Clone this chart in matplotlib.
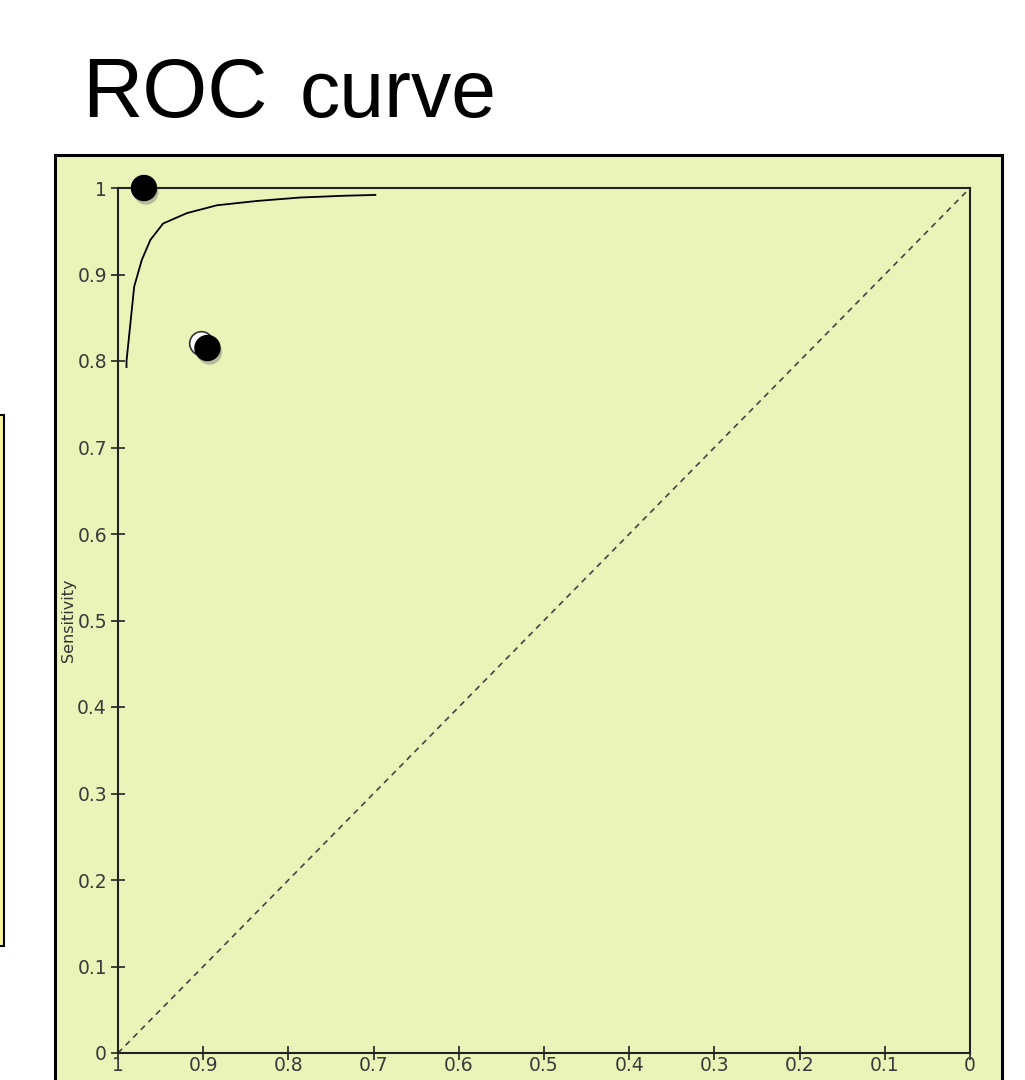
import matplotlib
matplotlib.use("Agg")
import matplotlib.pyplot as plt
import matplotlib.patheffects as pe
from matplotlib.patches import Rectangle

# ---- data ----
curve_spec = [0.990, 0.990, 0.981, 0.972, 0.962, 0.947, 0.919, 0.884, 0.837, 0.786, 0.736, 0.698]
curve_sens = [0.793, 0.800, 0.886, 0.917, 0.940, 0.959, 0.971, 0.980, 0.985, 0.989, 0.991, 0.992]
diag_spec = [1.0, 0.0]
diag_sens = [0.0, 1.0]
point_spec = [0.9695, 0.895]
point_sens = [1.0, 0.815]
ring_spec = [0.902]
ring_sens = [0.821]
ticks = [0, 0.1, 0.2, 0.3, 0.4, 0.5, 0.6, 0.7, 0.8, 0.9, 1.0]
tick_labels = ["0", "0.1", "0.2", "0.3", "0.4", "0.5", "0.6", "0.7", "0.8", "0.9", "1"]

W, H = 1025, 1080
fig = plt.figure(figsize=(W / 100, H / 100), dpi=100)
fig.patch.set_facecolor("white")

panel_col = "#EAF4B9"
# background panel
fig.patches.append(Rectangle((55 / W, -0.02), 947 / W, (H - 155) / H + 0.02,
                             transform=fig.transFigure, facecolor=panel_col,
                             edgecolor="black", linewidth=2.2, zorder=0))
# partial box at left edge
fig.patches.append(Rectangle((-10 / W, 1 - 946 / H), 14 / W, (946 - 415) / H,
                             transform=fig.transFigure, facecolor="#F8F29A",
                             edgecolor="black", linewidth=1.5, zorder=0))

# title
fig.text(82 / W, 1 - 117 / H, "ROC", fontsize=60, family="Liberation Sans",
         va="baseline", ha="left", color="black")
fig.text(300 / W, 1 - 117 / H, "curve", fontsize=58, family="Liberation Sans",
         va="baseline", ha="left", color="black")

ax = fig.add_axes([118 / W, 27 / H, 852 / W, 865 / H])
ax.set_zorder(2)
ax.set_facecolor(panel_col)
ax.patch.set_alpha(0.0)
ax.set_xlim(1, 0)
ax.set_ylim(0, 1)

for s in ax.spines.values():
    s.set_color("#222222")
    s.set_linewidth(1.5)

ax.set_xticks(ticks)
ax.set_xticklabels(tick_labels)
ax.set_yticks(ticks)
ax.set_yticklabels(tick_labels)
ax.tick_params(axis="both", direction="inout", length=10, width=1.2, color="#222222",
               labelsize=13.5, labelcolor="#3a3a3a")
ax.tick_params(axis="x", pad=-3)
ax.tick_params(axis="y", pad=3)

ax.set_ylabel("Sensitivity", fontsize=11.5, color="#333333", labelpad=1)

# diagonal reference
ax.plot(diag_spec, diag_sens, linestyle=(0, (3.5, 3)), color="#444444", linewidth=1.2)
# ROC curve
ax.plot(curve_spec, curve_sens, color="black", linewidth=1.3)

shadow = [pe.SimplePatchShadow(offset=(1.5, -3), shadow_rgbFace="#777777", alpha=0.45),
          pe.Normal()]
ax.plot(ring_spec, ring_sens, linestyle="none", marker="o", markersize=17,
        markerfacecolor="white", markeredgecolor="#333333", markeredgewidth=1.2,
        clip_on=False, zorder=4)
ax.plot(point_spec, point_sens, linestyle="none", marker="o", markersize=18,
        markerfacecolor="black", markeredgecolor="black", clip_on=False, zorder=5,
        path_effects=shadow)

fig.savefig("out.png", dpi=100, facecolor="white")
